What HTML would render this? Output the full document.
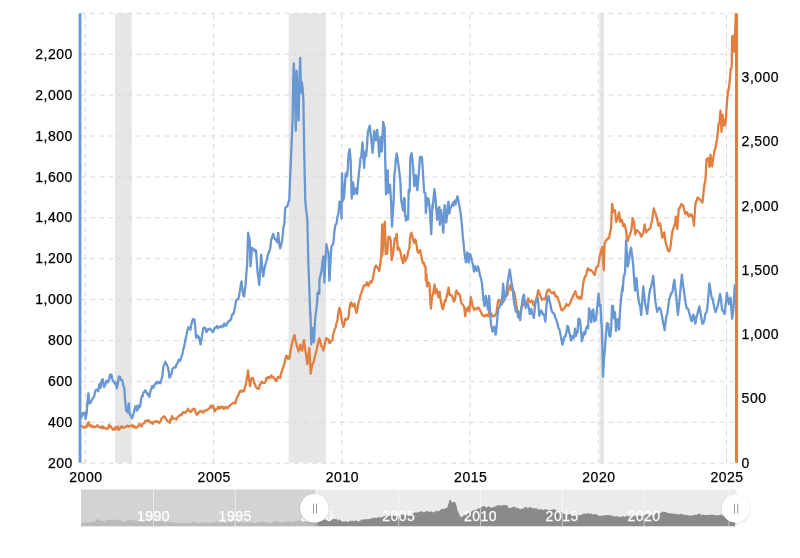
<!DOCTYPE html>
<html><head><meta charset="utf-8"><style>
html,body{margin:0;padding:0;background:#fff;width:800px;height:558px;overflow:hidden;position:relative}
</style></head><body>
<svg width="800" height="558" viewBox="0 0 800 558" style="position:absolute;left:0;top:0;will-change:transform"><rect x="115.0" y="13.3" width="16.8" height="449.4" fill="#e6e6e6"/><rect x="288.6" y="13.3" width="37.3" height="449.4" fill="#e6e6e6"/><rect x="599.5" y="13.3" width="4.6" height="449.4" fill="#e6e6e6"/><line x1="81.1" y1="463.2" x2="735.5" y2="463.2" stroke="#d8d8d8" stroke-width="1" stroke-dasharray="4.6,4.655"/><line x1="81.1" y1="422.3" x2="735.5" y2="422.3" stroke="#d8d8d8" stroke-width="1" stroke-dasharray="4.6,4.655"/><line x1="81.1" y1="381.4" x2="735.5" y2="381.4" stroke="#d8d8d8" stroke-width="1" stroke-dasharray="4.6,4.655"/><line x1="81.1" y1="340.5" x2="735.5" y2="340.5" stroke="#d8d8d8" stroke-width="1" stroke-dasharray="4.6,4.655"/><line x1="81.1" y1="299.6" x2="735.5" y2="299.6" stroke="#d8d8d8" stroke-width="1" stroke-dasharray="4.6,4.655"/><line x1="81.1" y1="258.7" x2="735.5" y2="258.7" stroke="#d8d8d8" stroke-width="1" stroke-dasharray="4.6,4.655"/><line x1="81.1" y1="217.8" x2="735.5" y2="217.8" stroke="#d8d8d8" stroke-width="1" stroke-dasharray="4.6,4.655"/><line x1="81.1" y1="176.9" x2="735.5" y2="176.9" stroke="#d8d8d8" stroke-width="1" stroke-dasharray="4.6,4.655"/><line x1="81.1" y1="136.0" x2="735.5" y2="136.0" stroke="#d8d8d8" stroke-width="1" stroke-dasharray="4.6,4.655"/><line x1="81.1" y1="95.1" x2="735.5" y2="95.1" stroke="#d8d8d8" stroke-width="1" stroke-dasharray="4.6,4.655"/><line x1="81.1" y1="54.2" x2="735.5" y2="54.2" stroke="#d8d8d8" stroke-width="1" stroke-dasharray="4.6,4.655"/><line x1="81.1" y1="13.3" x2="735.5" y2="13.3" stroke="#d8d8d8" stroke-width="1" stroke-dasharray="4.6,4.655"/><line x1="85.3" y1="463.0" x2="85.3" y2="13.3" stroke="#d8d8d8" stroke-width="1" stroke-dasharray="4.7,4.545"/><line x1="213.6" y1="463.0" x2="213.6" y2="13.3" stroke="#d8d8d8" stroke-width="1" stroke-dasharray="4.7,4.545"/><line x1="341.8" y1="463.0" x2="341.8" y2="13.3" stroke="#d8d8d8" stroke-width="1" stroke-dasharray="4.7,4.545"/><line x1="470.1" y1="463.0" x2="470.1" y2="13.3" stroke="#d8d8d8" stroke-width="1" stroke-dasharray="4.7,4.545"/><line x1="598.3" y1="463.0" x2="598.3" y2="13.3" stroke="#d8d8d8" stroke-width="1" stroke-dasharray="4.7,4.545"/><line x1="726.5" y1="463.0" x2="726.5" y2="13.3" stroke="#d8d8d8" stroke-width="1" stroke-dasharray="4.7,4.545"/><path d="M81.2,425.6 L82.0,425.8 L83.0,427.3 L84.0,427.6 L85.0,426.8 L86.0,427.6 L87.0,426.1 L87.8,423.6 L88.5,422.2 L89.5,425.6 L90.2,424.9 L91.0,426.8 L91.7,426.1 L92.4,425.6 L93.1,427.0 L94.1,426.8 L95.1,427.0 L95.8,426.5 L96.6,426.4 L97.3,425.2 L98.1,426.2 L99.1,427.0 L100.1,427.6 L100.8,426.9 L101.6,427.6 L102.3,426.3 L103.1,428.3 L103.8,427.3 L104.6,427.7 L105.3,428.2 L106.1,428.8 L107.1,428.5 L108.1,428.7 L109.1,424.7 L110.1,427.0 L111.1,426.7 L112.1,428.4 L112.9,429.8 L113.8,428.7 L114.6,429.6 L115.4,427.2 L116.3,428.4 L117.1,428.9 L117.8,426.4 L118.5,429.8 L119.2,429.4 L120.0,428.4 L120.7,427.2 L121.5,426.1 L122.2,427.5 L123.2,427.5 L124.2,427.8 L125.2,426.8 L126.2,426.8 L127.2,425.6 L128.2,426.0 L128.9,426.6 L129.7,426.0 L130.4,426.1 L131.2,426.0 L132.2,425.0 L133.2,427.2 L134.2,425.9 L135.2,427.6 L136.2,427.9 L137.2,427.1 L138.2,425.9 L138.8,425.4 L139.4,423.8 L140.1,425.4 L140.7,425.6 L141.4,426.5 L142.2,424.7 L142.9,423.3 L143.6,423.4 L144.3,423.3 L145.3,420.7 L146.3,420.7 L147.1,421.1 L147.8,420.4 L148.6,420.2 L149.3,422.0 L150.3,421.7 L151.3,423.0 L152.1,422.1 L152.8,423.8 L153.8,422.3 L154.8,421.5 L155.6,421.4 L156.3,421.9 L157.3,421.1 L158.3,422.2 L159.1,423.1 L159.9,422.2 L160.7,421.1 L161.5,418.6 L162.3,417.5 L163.2,417.1 L164.0,416.3 L164.8,416.7 L165.7,418.7 L166.5,419.6 L167.3,420.8 L168.2,421.7 L169.0,421.8 L169.8,422.9 L170.5,419.1 L171.2,420.2 L172.0,416.2 L172.7,418.4 L173.4,418.5 L174.1,418.5 L174.8,418.4 L175.6,418.9 L176.4,419.6 L177.3,417.7 L178.1,416.3 L178.9,416.3 L179.8,415.2 L180.6,414.4 L181.3,415.2 L182.1,414.4 L182.9,412.3 L183.8,412.8 L184.6,412.3 L185.6,412.7 L186.6,410.9 L187.3,410.5 L188.1,408.7 L188.8,410.8 L189.6,410.9 L190.6,412.0 L191.6,411.4 L192.3,409.4 L193.1,409.4 L193.8,408.6 L194.6,408.8 L195.6,412.2 L196.3,414.1 L197.1,414.8 L197.8,414.0 L198.5,412.4 L199.2,412.3 L200.2,410.8 L201.2,410.9 L202.2,412.2 L203.2,412.6 L204.2,410.8 L205.2,410.3 L206.2,410.8 L207.2,409.8 L208.2,409.3 L209.2,408.3 L209.9,407.7 L210.7,405.8 L211.4,407.6 L212.2,407.1 L212.9,405.6 L213.7,408.2 L214.7,411.4 L215.7,409.6 L216.5,408.7 L217.4,408.7 L218.2,406.8 L219.2,408.8 L220.2,407.5 L220.9,406.4 L221.7,407.8 L222.4,407.1 L223.1,407.0 L223.8,409.0 L224.8,407.9 L225.8,406.6 L226.6,407.2 L227.3,408.6 L228.3,407.3 L229.3,405.9 L230.3,405.2 L231.3,404.2 L232.3,403.7 L233.3,402.9 L234.3,402.5 L235.3,403.5 L236.3,399.3 L237.3,396.9 L238.3,395.3 L239.3,392.8 L240.0,391.3 L240.8,391.9 L241.6,390.4 L242.4,391.3 L243.2,391.1 L244.0,391.3 L245.0,386.7 L246.0,384.4 L247.0,377.5 L248.0,370.4 L249.0,378.9 L250.0,386.2 L251.0,379.8 L252.0,377.9 L252.8,378.3 L253.6,380.0 L254.3,383.1 L255.1,384.4 L255.8,386.9 L256.6,387.4 L257.4,388.6 L258.1,388.8 L258.9,388.4 L259.6,384.9 L260.4,384.7 L261.1,382.6 L261.9,381.7 L262.6,382.6 L263.4,382.9 L264.1,382.9 L264.9,382.8 L265.7,381.2 L266.5,377.8 L267.3,378.7 L268.1,376.9 L268.9,378.0 L269.6,377.3 L270.4,377.6 L271.1,375.4 L271.9,376.9 L272.6,377.3 L273.4,376.9 L274.1,378.4 L274.9,379.0 L275.6,380.8 L276.4,381.1 L277.1,379.2 L277.9,376.9 L278.6,377.6 L279.4,377.7 L280.2,378.0 L280.9,373.6 L281.7,371.9 L282.4,368.9 L283.2,367.8 L283.9,365.2 L284.7,362.5 L285.4,358.6 L286.2,355.9 L286.9,355.8 L287.7,358.5 L288.4,357.9 L289.2,358.8 L290.1,353.8 L290.9,348.8 L291.8,344.4 L292.5,341.5 L293.2,339.5 L293.9,336.0 L294.6,335.2 L295.4,340.3 L296.2,343.2 L297.0,346.4 L297.8,348.9 L298.6,351.5 L299.4,349.7 L300.2,344.6 L301.2,348.8 L302.2,350.6 L303.0,345.6 L303.9,340.1 L304.6,344.4 L305.3,350.1 L306.3,356.6 L307.3,364.1 L308.3,356.6 L309.3,348.0 L310.0,359.6 L310.7,373.7 L311.5,368.6 L312.3,364.5 L313.1,362.9 L313.8,361.5 L314.6,357.5 L315.3,354.7 L316.3,351.7 L317.3,346.4 L318.3,341.8 L319.3,338.4 L320.3,341.9 L321.3,346.1 L322.3,347.0 L323.3,350.5 L324.1,347.7 L324.8,344.0 L325.6,340.8 L326.3,338.1 L327.1,339.3 L327.9,338.9 L328.6,339.8 L329.4,343.0 L330.1,343.2 L330.9,341.1 L331.6,340.7 L332.4,340.0 L333.1,334.5 L333.9,332.4 L334.6,329.1 L335.4,328.1 L336.4,323.8 L337.4,320.0 L338.4,312.5 L339.4,307.9 L340.4,310.7 L341.4,317.8 L342.4,323.4 L343.4,326.9 L344.4,323.0 L345.4,318.6 L346.1,318.8 L346.9,319.6 L347.6,319.0 L348.4,318.1 L349.4,309.1 L350.4,303.4 L351.4,302.4 L352.4,306.4 L353.1,306.2 L353.8,305.0 L354.5,303.7 L355.5,309.6 L356.5,312.9 L357.5,308.7 L358.5,302.5 L359.5,299.5 L360.5,295.0 L361.5,292.4 L362.5,289.6 L363.3,287.2 L364.1,285.2 L365.0,285.7 L366.0,285.1 L366.9,282.3 L367.8,284.6 L368.6,285.8 L369.6,282.7 L370.6,281.3 L371.4,282.5 L372.3,280.1 L373.1,277.5 L373.9,272.8 L374.5,269.5 L375.1,266.7 L376.1,265.6 L377.1,267.4 L377.8,267.9 L378.5,269.1 L379.2,271.2 L380.2,264.4 L381.2,258.1 L382.2,224.5 L382.2,255.6 L383.1,245.4 L383.9,234.8 L384.8,221.6 L385.7,254.1 L386.4,253.2 L387.2,253.5 L388.2,237.8 L388.9,236.7 L389.7,237.0 L390.7,240.3 L391.7,260.0 L392.4,256.6 L393.2,253.5 L393.9,246.3 L394.7,238.4 L395.7,239.2 L396.7,233.8 L397.7,249.9 L398.4,247.4 L399.2,248.9 L399.9,250.3 L400.7,253.4 L401.7,258.9 L402.4,260.8 L403.1,263.2 L404.3,255.1 L405.3,261.2 L406.3,258.5 L407.3,256.7 L408.3,250.9 L409.3,248.6 L410.3,235.5 L411.5,232.8 L412.4,236.2 L413.3,240.7 L414.3,242.7 L415.1,239.4 L415.8,240.5 L416.6,245.5 L417.3,250.6 L418.3,252.7 L419.2,251.7 L420.2,250.1 L421.1,255.0 L422.0,259.8 L423.0,263.2 L424.0,262.8 L424.8,266.6 L425.5,266.2 L425.8,280.4 L426.5,274.2 L427.0,286.3 L428.0,282.0 L428.8,283.1 L429.5,283.9 L430.5,304.2 L431.0,308.7 L432.0,297.0 L433.1,293.6 L433.9,288.7 L434.6,284.3 L435.6,293.1 L436.6,289.3 L437.6,293.3 L438.6,297.4 L439.6,291.7 L440.6,300.3 L441.6,304.5 L442.2,307.4 L442.9,309.1 L443.5,307.0 L444.1,303.9 L444.9,300.6 L445.6,301.2 L446.6,296.7 L447.6,292.4 L448.6,287.6 L449.6,295.2 L450.4,294.9 L451.1,295.3 L451.9,295.6 L452.6,297.4 L453.4,300.4 L454.1,301.7 L455.1,299.0 L455.9,291.9 L456.6,290.5 L457.4,292.8 L458.2,294.0 L458.9,293.6 L459.7,294.8 L460.4,298.4 L461.2,302.4 L461.9,303.9 L462.7,304.6 L463.4,305.4 L464.2,307.4 L465.2,316.0 L466.2,308.7 L467.2,310.5 L468.2,307.2 L469.2,311.4 L469.9,306.4 L470.7,297.2 L471.7,301.3 L472.7,306.9 L473.4,307.5 L474.2,309.9 L475.2,309.2 L475.9,308.3 L476.7,309.0 L477.4,309.2 L478.2,307.5 L479.2,308.6 L480.2,310.5 L481.2,312.6 L482.2,314.4 L482.9,315.7 L483.6,315.9 L484.3,316.4 L485.3,315.8 L486.3,314.6 L487.3,315.8 L488.3,316.3 L489.3,311.2 L490.3,314.0 L491.3,313.6 L492.3,316.1 L493.1,316.4 L493.9,315.9 L494.7,315.9 L495.5,314.2 L496.3,314.2 L497.1,308.1 L497.8,302.5 L498.6,300.2 L499.3,299.7 L500.5,302.4 L501.4,301.7 L502.2,301.3 L503.1,302.3 L504.1,300.5 L505.1,297.8 L505.8,296.8 L506.5,295.9 L507.4,294.7 L508.3,290.4 L509.2,287.9 L509.9,285.3 L510.7,286.7 L511.5,290.2 L512.2,290.2 L513.2,290.3 L514.2,292.1 L515.0,296.8 L515.8,302.1 L516.6,307.3 L517.4,310.9 L518.2,311.2 L519.2,315.9 L520.2,314.6 L521.2,308.8 L522.2,306.2 L523.2,304.6 L524.2,302.3 L525.2,303.2 L526.2,304.4 L527.2,302.2 L528.2,298.4 L529.2,301.1 L530.2,302.3 L531.2,301.0 L532.2,300.6 L532.9,302.0 L533.6,305.2 L534.3,304.8 L535.3,302.3 L536.3,298.7 L537.3,294.7 L538.3,290.2 L539.3,292.9 L540.3,296.1 L541.1,297.5 L541.9,300.0 L542.7,298.8 L543.6,298.8 L544.4,298.7 L545.3,299.5 L546.3,294.7 L547.3,290.4 L548.3,290.4 L549.3,289.4 L550.3,291.6 L551.3,292.5 L552.2,293.4 L553.0,293.1 L553.9,292.0 L554.7,294.2 L555.5,296.6 L556.3,296.0 L557.0,296.9 L557.7,297.3 L558.4,300.1 L559.4,302.7 L560.4,306.6 L561.4,310.0 L562.4,310.4 L563.4,309.0 L564.4,308.0 L565.4,306.4 L566.4,303.9 L567.4,305.2 L568.4,305.8 L569.4,304.5 L570.4,302.4 L571.4,299.4 L572.4,297.8 L573.4,295.1 L574.4,293.2 L575.4,291.3 L576.4,294.8 L577.4,297.5 L578.4,298.2 L579.1,296.8 L579.9,298.7 L580.6,298.7 L581.4,298.3 L582.1,293.7 L582.8,286.7 L583.5,281.8 L584.4,278.3 L585.2,276.0 L586.1,275.6 L587.1,270.2 L588.1,268.3 L589.1,269.9 L590.1,270.5 L590.9,269.8 L591.7,270.7 L592.5,271.9 L593.3,272.9 L594.1,274.5 L594.9,274.9 L596.0,268.0 L596.8,266.7 L597.5,266.8 L598.2,265.9 L599.0,260.9 L600.0,255.5 L601.0,250.5 L601.7,249.0 L602.4,246.9 L603.0,259.3 L603.7,270.3 L604.5,244.6 L605.3,242.1 L606.1,240.0 L606.9,239.8 L607.6,239.1 L608.4,237.6 L609.1,238.0 L610.1,232.0 L611.1,228.1 L612.1,203.8 L612.9,208.1 L613.7,212.1 L614.4,210.4 L615.1,210.4 L616.1,222.0 L616.9,220.6 L617.7,218.4 L618.4,215.3 L619.1,212.3 L620.1,221.8 L620.9,220.7 L621.7,219.8 L622.4,221.6 L623.1,226.1 L623.8,224.2 L624.5,224.2 L625.3,227.4 L626.1,230.6 L627.1,240.6 L627.8,240.6 L628.5,237.8 L629.2,236.2 L630.2,233.8 L631.2,230.7 L631.9,225.5 L632.6,218.2 L633.4,220.2 L634.2,223.8 L635.2,234.4 L636.2,231.5 L637.2,230.1 L638.2,231.5 L639.2,232.5 L640.2,233.9 L641.2,236.8 L642.2,235.4 L643.2,232.6 L643.9,229.6 L644.6,224.4 L645.4,229.2 L646.2,232.4 L647.2,230.6 L648.2,229.9 L649.2,228.9 L650.2,228.3 L651.2,224.0 L652.2,220.0 L653.0,213.6 L653.9,208.3 L654.6,211.6 L655.3,212.3 L656.3,216.4 L657.3,219.7 L658.3,225.7 L659.3,223.5 L660.3,223.7 L661.3,230.9 L662.3,237.6 L663.3,234.5 L664.3,232.4 L665.3,240.7 L666.3,244.5 L667.3,248.2 L668.3,251.0 L669.3,251.4 L670.3,248.5 L671.3,240.1 L672.3,231.9 L673.3,228.6 L674.3,226.4 L675.1,222.8 L675.9,216.6 L676.6,223.9 L677.3,228.9 L678.0,218.5 L678.8,208.4 L679.7,208.3 L680.5,206.1 L681.4,204.0 L682.4,205.0 L683.4,206.2 L684.4,210.9 L685.4,213.8 L686.4,212.1 L687.4,212.6 L688.4,216.3 L689.4,216.5 L690.1,215.4 L690.8,214.2 L691.8,215.1 L692.8,217.9 L693.4,221.6 L694.0,225.8 L694.7,214.3 L695.4,204.1 L696.1,201.3 L696.9,200.1 L697.6,197.6 L698.4,198.0 L699.4,199.0 L700.4,200.2 L701.4,201.1 L702.4,202.5 L703.1,197.3 L703.8,189.5 L704.5,184.1 L705.5,179.7 L706.5,159.3 L707.5,158.6 L708.5,158.3 L709.5,166.8 L710.5,154.7 L711.3,160.6 L712.1,166.4 L712.8,160.9 L713.5,156.6 L714.5,150.5 L715.5,148.0 L716.2,143.3 L716.9,140.3 L717.7,133.5 L718.5,124.1 L719.5,122.5 L720.5,110.6 L721.5,131.9 L722.5,114.6 L723.3,119.8 L724.1,125.6 L724.8,125.2 L725.5,123.9 L726.1,114.9 L726.7,106.0 L727.7,92.9 L728.5,90.2 L729.2,85.7 L730.0,77.8 L730.7,68.8 L731.7,67.5 L732.2,36.4 L732.7,50.1 L733.8,35.7 L734.3,51.9 L735.1,33.6 L735.8,13.4" fill="none" stroke="#e07f3f" stroke-width="2.3" stroke-linejoin="round"/><path d="M80.0,415.1 L80.8,416.2 L81.5,417.6 L82.5,413.0 L83.3,414.2 L84.2,413.1 L85.0,412.5 L85.5,418.9 L86.5,414.6 L87.4,402.9 L88.4,393.3 L89.3,403.4 L90.2,403.0 L91.0,402.2 L91.9,399.5 L93.1,397.9 L94.2,396.3 L95.3,390.7 L96.4,389.6 L97.6,390.1 L98.3,391.3 L98.9,386.7 L99.5,384.2 L100.6,387.8 L101.3,381.8 L102.1,379.7 L102.8,379.2 L103.4,384.1 L104.0,387.0 L104.8,385.3 L105.5,384.3 L106.2,381.1 L107.0,380.7 L108.1,382.2 L109.2,379.0 L109.8,375.0 L110.4,377.5 L111.5,374.4 L112.6,380.0 L113.3,381.2 L114.1,381.9 L114.9,383.9 L115.7,382.5 L116.8,388.3 L117.9,382.8 L119.0,376.5 L119.8,376.7 L120.5,378.1 L121.1,380.2 L121.7,380.1 L122.5,380.6 L123.2,385.2 L124.3,388.5 L125.2,401.1 L126.2,411.0 L127.0,410.4 L127.7,412.5 L128.7,403.4 L129.7,413.5 L130.7,416.2 L131.3,416.5 L132.0,418.4 L133.2,414.7 L133.9,412.2 L134.7,408.6 L135.4,406.6 L136.2,406.0 L136.9,410.6 L137.7,409.4 L138.7,405.3 L139.4,407.4 L140.2,406.1 L141.2,398.5 L141.9,396.0 L142.6,396.4 L143.3,392.7 L144.3,391.8 L145.3,390.3 L146.3,392.0 L147.3,394.2 L148.3,393.8 L149.3,396.9 L150.3,391.8 L151.3,388.5 L152.3,385.9 L153.3,387.7 L154.1,386.2 L154.8,384.6 L155.6,383.2 L156.3,382.2 L157.1,383.6 L157.8,382.4 L158.6,381.8 L159.3,382.9 L160.3,383.3 L161.3,380.1 L162.3,376.3 L163.3,367.0 L164.3,364.9 L165.3,361.8 L166.3,363.9 L167.3,365.8 L168.0,368.0 L168.7,371.2 L169.4,377.5 L170.4,376.4 L171.4,374.1 L172.4,368.9 L173.4,368.1 L174.2,367.1 L174.9,367.3 L175.7,367.5 L176.4,364.5 L177.2,363.6 L177.9,362.3 L178.7,359.7 L179.4,360.2 L180.2,360.7 L180.9,358.5 L181.7,356.0 L182.4,354.1 L183.4,348.9 L184.4,345.6 L185.4,339.6 L186.4,335.5 L187.4,330.3 L188.4,327.1 L189.4,327.8 L190.4,329.8 L191.4,324.0 L192.4,320.7 L193.1,319.0 L193.8,320.9 L194.5,319.7 L195.3,327.9 L196.1,337.7 L196.9,337.6 L197.7,335.6 L198.5,336.3 L199.5,340.1 L200.5,344.5 L201.5,338.8 L202.5,332.0 L203.5,328.0 L204.5,327.4 L205.5,328.5 L206.5,332.0 L207.2,331.4 L208.0,329.2 L208.8,329.2 L209.5,328.4 L210.2,329.6 L211.0,329.7 L211.8,330.3 L212.5,332.2 L213.5,331.2 L214.5,327.8 L215.3,328.0 L216.1,327.0 L217.0,326.0 L217.8,328.2 L218.6,327.5 L219.4,326.7 L220.2,326.7 L221.0,327.1 L221.8,325.7 L222.6,325.9 L223.4,326.5 L224.2,323.5 L225.0,324.7 L225.8,325.8 L226.6,325.3 L227.3,322.7 L228.1,322.7 L228.8,320.6 L229.6,321.0 L230.3,320.4 L231.1,318.8 L231.8,315.9 L232.6,313.8 L233.3,314.0 L234.1,311.7 L235.1,306.4 L236.1,300.6 L237.1,299.5 L238.1,299.4 L239.1,295.4 L240.1,289.6 L240.8,284.8 L241.5,281.3 L242.3,287.8 L243.1,294.6 L244.1,296.4 L244.9,290.2 L245.7,283.5 L246.4,272.9 L247.1,265.5 L248.1,232.6 L248.9,236.9 L249.7,240.3 L250.5,266.5 L251.3,256.6 L252.1,247.9 L253.1,248.8 L254.1,250.0 L254.8,251.6 L255.4,249.8 L256.1,250.9 L257.1,266.3 L257.8,273.8 L258.5,278.0 L259.2,284.9 L260.2,270.6 L261.2,254.6 L262.2,267.0 L263.2,276.3 L264.2,269.9 L265.2,265.2 L266.2,262.0 L267.2,257.9 L268.2,253.8 L269.2,251.9 L270.2,248.5 L271.2,239.9 L272.2,236.9 L273.2,233.9 L274.2,237.5 L275.2,239.5 L276.2,239.4 L277.2,242.3 L278.2,232.8 L279.2,243.6 L280.2,248.4 L281.2,244.7 L282.2,240.2 L282.9,233.0 L283.6,226.4 L284.3,223.9 L285.3,208.0 L286.3,206.8 L287.3,206.5 L288.3,202.5 L289.3,200.1 L290.2,176.3 L291.2,152.0 L291.9,136.9 L292.6,120.5 L293.2,80.4 L293.8,63.3 L294.6,81.1 L295.8,130.8 L296.6,70.7 L297.8,96.8 L298.6,120.5 L299.4,80.6 L300.2,58.0 L301.0,92.6 L301.8,82.1 L302.6,87.9 L303.4,100.2 L304.2,152.3 L305.3,200.6 L306.3,211.3 L307.3,218.4 L308.4,264.1 L309.4,290.5 L310.3,316.3 L310.4,311.7 L311.3,344.4 L312.0,336.9 L312.7,327.9 L313.9,342.2 L314.6,328.3 L315.3,317.4 L316.3,309.4 L317.3,301.2 L317.4,294.0 L318.4,291.6 L319.3,293.9 L319.4,279.9 L320.4,275.9 L321.4,271.6 L322.4,262.5 L323.4,256.3 L324.4,282.6 L325.4,261.1 L326.4,244.2 L327.4,249.5 L328.4,252.3 L329.4,280.9 L330.4,262.9 L331.4,246.1 L332.1,245.6 L332.8,244.8 L333.5,241.2 L334.5,230.2 L335.5,224.7 L336.5,223.9 L337.5,216.7 L338.5,213.6 L339.6,201.6 L340.5,204.0 L341.0,204.7 L341.5,218.5 L342.0,173.5 L343.1,200.6 L344.1,196.4 L344.9,185.3 L345.7,173.5 L346.4,175.8 L347.1,176.3 L347.8,167.9 L348.5,154.8 L349.7,149.1 L350.7,161.2 L351.7,198.6 L352.4,188.4 L353.1,182.5 L354.1,194.3 L354.9,191.4 L355.7,188.3 L356.4,191.4 L357.1,193.9 L358.1,182.0 L358.9,173.1 L359.7,166.1 L360.4,158.6 L361.1,157.9 L361.8,150.7 L362.5,142.5 L363.3,153.4 L364.1,167.9 L365.1,152.3 L366.1,156.2 L367.0,146.1 L367.8,132.4 L368.8,128.3 L369.8,125.7 L370.5,132.4 L371.2,138.0 L371.9,146.0 L372.6,152.8 L373.4,143.0 L374.2,130.8 L375.0,136.2 L375.8,140.4 L376.5,134.6 L377.2,129.8 L378.2,140.8 L379.2,156.5 L379.9,144.9 L380.6,137.1 L381.8,151.7 L382.5,136.8 L383.2,121.9 L383.9,125.7 L384.6,126.8 L385.3,162.8 L386.0,194.3 L386.2,193.9 L387.0,182.2 L387.8,170.4 L388.0,192.4 L389.2,192.8 L390.0,184.7 L391.0,200.4 L392.0,226.6 L392.9,212.7 L393.7,199.1 L394.3,175.5 L395.1,169.3 L395.9,158.9 L396.7,153.3 L397.5,158.0 L398.3,164.0 L399.3,171.8 L400.3,180.3 L401.1,199.7 L401.9,204.2 L402.5,207.6 L403.1,210.5 L404.1,198.0 L404.7,199.0 L405.1,215.2 L406.1,220.6 L407.1,216.4 L408.1,219.5 L408.7,189.8 L409.7,191.8 L410.3,158.3 L411.0,154.8 L411.7,153.3 L412.5,160.9 L413.3,170.3 L414.3,186.0 L415.1,183.7 L415.9,175.1 L416.5,179.9 L417.1,189.5 L417.3,190.2 L418.4,178.9 L419.2,167.7 L420.0,157.2 L421.0,156.9 L422.0,157.7 L422.7,168.8 L423.4,180.5 L424.2,192.4 L425.4,193.2 L425.8,213.1 L426.5,204.6 L427.2,198.0 L427.4,205.2 L428.4,198.7 L429.2,202.6 L430.2,216.4 L431.2,234.2 L432.4,205.1 L432.6,208.9 L433.4,200.2 L434.2,190.6 L434.4,189.2 L435.1,194.3 L435.8,202.2 L436.5,211.5 L437.2,219.8 L437.9,214.1 L438.6,208.2 L439.4,207.0 L439.8,224.9 L440.5,218.1 L441.2,210.1 L441.9,217.2 L442.6,224.4 L443.3,232.7 L444.5,205.4 L444.7,205.2 L445.5,215.7 L446.3,222.5 L447.1,215.0 L447.9,204.3 L448.5,201.6 L449.3,213.5 L450.3,208.4 L451.3,206.4 L451.5,206.1 L452.4,203.7 L453.3,205.6 L453.5,201.8 L454.4,203.6 L455.3,200.4 L455.5,204.4 L456.4,200.5 L457.3,196.7 L457.5,196.2 L458.4,200.4 L459.3,205.3 L460.3,211.0 L461.3,219.7 L462.0,226.1 L462.7,235.4 L463.5,243.0 L464.3,251.1 L465.1,257.3 L465.9,262.3 L466.6,258.0 L467.3,252.3 L468.1,256.2 L468.8,262.7 L470.0,253.8 L471.0,256.6 L472.0,261.5 L473.0,264.9 L474.0,271.6 L475.0,266.1 L476.0,270.1 L477.0,270.7 L478.0,266.4 L479.0,270.0 L480.0,275.9 L481.0,278.4 L482.0,283.8 L483.1,296.4 L483.8,301.9 L484.5,306.2 L485.7,295.9 L486.4,299.6 L487.1,304.2 L488.1,309.8 L489.1,295.8 L490.1,312.3 L491.1,325.7 L491.8,327.5 L492.5,331.5 L493.3,330.0 L494.1,326.7 L494.9,331.7 L495.7,334.7 L496.4,328.4 L497.1,320.6 L498.1,309.7 L498.9,307.7 L499.7,306.4 L500.7,303.5 L501.7,304.3 L502.4,295.2 L503.1,283.6 L503.8,290.6 L504.5,299.8 L505.3,296.8 L506.1,296.1 L507.0,287.2 L507.8,281.7 L508.8,275.2 L509.8,269.3 L510.5,275.1 L511.2,280.1 L511.9,285.1 L512.6,287.5 L513.4,296.3 L514.2,304.1 L515.0,306.2 L515.8,311.7 L516.6,310.7 L517.4,311.5 L518.2,317.4 L519.2,316.5 L520.2,320.1 L521.0,311.7 L521.8,305.4 L522.8,297.4 L523.8,294.5 L524.8,301.7 L525.8,308.0 L526.8,304.5 L527.8,303.5 L528.8,307.7 L529.8,314.2 L530.5,312.7 L531.2,308.9 L532.1,313.3 L533.0,314.9 L533.9,317.9 L534.9,306.4 L535.9,301.1 L536.9,298.8 L537.9,297.8 L538.6,307.1 L539.3,315.7 L540.3,313.4 L541.3,310.4 L542.3,312.6 L543.3,314.5 L544.3,315.6 L545.3,321.6 L546.3,307.7 L547.3,298.5 L548.0,297.6 L548.7,296.1 L549.5,301.1 L550.3,303.9 L551.3,309.7 L552.3,312.1 L553.3,313.1 L554.3,313.9 L555.3,317.7 L556.3,319.4 L557.0,322.4 L557.7,324.2 L558.4,328.1 L559.4,329.3 L560.4,334.1 L561.4,339.2 L562.4,344.6 L563.4,341.2 L564.4,336.7 L565.4,336.4 L566.4,332.5 L567.4,325.9 L568.3,326.8 L569.1,331.8 L570.0,335.0 L571.0,340.5 L572.0,336.4 L572.8,336.1 L573.5,338.4 L574.2,336.3 L575.0,328.6 L576.0,336.0 L576.8,332.7 L577.5,332.3 L578.5,318.9 L579.2,318.7 L580.0,320.2 L581.0,330.3 L581.8,341.3 L582.5,338.6 L583.1,336.8 L584.1,332.1 L585.1,334.2 L586.1,328.4 L587.3,326.0 L588.1,328.3 L589.1,308.4 L590.1,312.3 L591.3,322.4 L592.3,310.7 L593.3,309.5 L594.3,321.4 L595.1,319.7 L595.9,320.1 L596.9,310.1 L597.9,299.8 L598.6,293.6 L599.6,306.1 L600.6,305.2 L601.3,321.9 L601.9,327.6 L602.6,356.7 L603.0,376.6 L604.1,357.0 L604.8,350.7 L605.5,340.2 L606.1,332.1 L606.9,323.1 L607.5,323.5 L608.2,323.7 L609.2,335.1 L610.2,336.7 L611.2,328.2 L612.0,306.0 L613.0,306.0 L614.0,318.4 L615.0,312.5 L616.0,330.9 L617.0,319.8 L618.0,319.1 L619.0,329.7 L619.7,317.8 L620.2,308.4 L621.0,299.6 L621.7,292.9 L622.5,286.3 L622.7,291.1 L623.7,276.3 L624.4,275.4 L625.1,270.8 L626.1,240.6 L626.9,253.6 L627.7,266.7 L628.4,262.9 L629.1,258.6 L630.1,251.0 L631.1,247.8 L632.1,255.5 L633.1,263.9 L634.1,278.5 L635.1,290.7 L635.8,284.7 L636.5,278.1 L637.4,289.6 L638.2,297.0 L639.2,303.5 L640.2,306.3 L641.2,315.0 L642.2,302.2 L643.2,286.5 L644.2,295.5 L645.2,303.7 L646.2,309.1 L647.2,313.9 L648.2,304.6 L649.2,294.2 L650.2,289.2 L651.2,286.3 L652.2,281.5 L653.2,275.8 L654.2,287.4 L655.2,300.4 L656.2,306.2 L657.2,311.8 L658.2,309.0 L659.2,307.8 L660.2,308.4 L661.2,312.1 L661.9,315.8 L662.6,319.8 L663.3,323.6 L664.0,326.4 L664.7,330.2 L665.5,322.4 L666.3,316.3 L667.3,313.9 L668.3,306.2 L669.3,298.8 L670.3,296.2 L671.3,293.0 L672.3,292.6 L673.3,285.5 L674.3,279.9 L675.3,288.8 L676.3,296.8 L677.1,306.8 L677.9,314.8 L678.9,306.0 L679.9,296.2 L680.9,284.8 L681.9,274.7 L682.9,284.1 L683.9,290.6 L684.9,298.3 L685.9,304.8 L686.6,308.3 L687.3,308.3 L688.0,308.6 L689.0,312.2 L690.0,315.6 L691.0,320.0 L692.0,321.4 L692.7,317.0 L693.4,314.7 L694.4,318.0 L695.4,323.7 L696.4,317.3 L697.4,314.0 L698.4,309.8 L699.4,306.4 L700.4,312.8 L701.4,318.3 L702.4,323.8 L703.4,323.1 L704.4,319.7 L705.4,313.6 L706.4,312.9 L707.4,307.1 L708.4,296.2 L709.4,283.3 L710.4,289.8 L711.4,296.0 L712.1,298.6 L712.8,298.6 L713.5,303.5 L714.5,308.4 L715.5,312.2 L716.4,309.6 L717.2,307.9 L718.1,304.0 L719.1,299.1 L720.1,294.0 L721.1,300.3 L722.1,309.9 L722.9,310.8 L723.7,312.0 L724.5,314.0 L725.3,307.5 L726.1,301.5 L726.9,292.8 L727.9,299.2 L728.9,304.0 L729.7,299.6 L730.5,297.6 L731.3,307.3 L732.1,318.6 L732.8,314.0 L733.5,306.6 L734.2,295.2 L734.9,284.4" fill="none" stroke="#6897d2" stroke-width="2.3" stroke-linejoin="round"/><rect x="78.6" y="13.3" width="2.8" height="449.4" fill="#6897d2"/><rect x="735" y="13.3" width="3" height="449.4" fill="#e07f3f"/><text x="72.8" y="467.7" text-anchor="end" font-family='"Liberation Sans", sans-serif' font-size="14" fill="#000" letter-spacing="0.5" stroke="#000" stroke-width="0.25">200</text><text x="72.8" y="426.8" text-anchor="end" font-family='"Liberation Sans", sans-serif' font-size="14" fill="#000" letter-spacing="0.5" stroke="#000" stroke-width="0.25">400</text><text x="72.8" y="385.9" text-anchor="end" font-family='"Liberation Sans", sans-serif' font-size="14" fill="#000" letter-spacing="0.5" stroke="#000" stroke-width="0.25">600</text><text x="72.8" y="345.0" text-anchor="end" font-family='"Liberation Sans", sans-serif' font-size="14" fill="#000" letter-spacing="0.5" stroke="#000" stroke-width="0.25">800</text><text x="72.8" y="304.1" text-anchor="end" font-family='"Liberation Sans", sans-serif' font-size="14" fill="#000" letter-spacing="0.5" stroke="#000" stroke-width="0.25">1,000</text><text x="72.8" y="263.2" text-anchor="end" font-family='"Liberation Sans", sans-serif' font-size="14" fill="#000" letter-spacing="0.5" stroke="#000" stroke-width="0.25">1,200</text><text x="72.8" y="222.4" text-anchor="end" font-family='"Liberation Sans", sans-serif' font-size="14" fill="#000" letter-spacing="0.5" stroke="#000" stroke-width="0.25">1,400</text><text x="72.8" y="181.5" text-anchor="end" font-family='"Liberation Sans", sans-serif' font-size="14" fill="#000" letter-spacing="0.5" stroke="#000" stroke-width="0.25">1,600</text><text x="72.8" y="140.6" text-anchor="end" font-family='"Liberation Sans", sans-serif' font-size="14" fill="#000" letter-spacing="0.5" stroke="#000" stroke-width="0.25">1,800</text><text x="72.8" y="99.7" text-anchor="end" font-family='"Liberation Sans", sans-serif' font-size="14" fill="#000" letter-spacing="0.5" stroke="#000" stroke-width="0.25">2,000</text><text x="72.8" y="58.8" text-anchor="end" font-family='"Liberation Sans", sans-serif' font-size="14" fill="#000" letter-spacing="0.5" stroke="#000" stroke-width="0.25">2,200</text><text x="741.6" y="467.6" text-anchor="start" font-family='"Liberation Sans", sans-serif' font-size="14" fill="#000" letter-spacing="0.5" stroke="#000" stroke-width="0.25">0</text><text x="741.6" y="403.3" text-anchor="start" font-family='"Liberation Sans", sans-serif' font-size="14" fill="#000" letter-spacing="0.5" stroke="#000" stroke-width="0.25">500</text><text x="741.6" y="339.1" text-anchor="start" font-family='"Liberation Sans", sans-serif' font-size="14" fill="#000" letter-spacing="0.5" stroke="#000" stroke-width="0.25">1,000</text><text x="741.6" y="274.8" text-anchor="start" font-family='"Liberation Sans", sans-serif' font-size="14" fill="#000" letter-spacing="0.5" stroke="#000" stroke-width="0.25">1,500</text><text x="741.6" y="210.6" text-anchor="start" font-family='"Liberation Sans", sans-serif' font-size="14" fill="#000" letter-spacing="0.5" stroke="#000" stroke-width="0.25">2,000</text><text x="741.6" y="146.3" text-anchor="start" font-family='"Liberation Sans", sans-serif' font-size="14" fill="#000" letter-spacing="0.5" stroke="#000" stroke-width="0.25">2,500</text><text x="741.6" y="82.1" text-anchor="start" font-family='"Liberation Sans", sans-serif' font-size="14" fill="#000" letter-spacing="0.5" stroke="#000" stroke-width="0.25">3,000</text><text x="85.9" y="482.4" text-anchor="middle" font-family='"Liberation Sans", sans-serif' font-size="14" fill="#000" letter-spacing="0.5" stroke="#000" stroke-width="0.25">2000</text><text x="214.2" y="482.4" text-anchor="middle" font-family='"Liberation Sans", sans-serif' font-size="14" fill="#000" letter-spacing="0.5" stroke="#000" stroke-width="0.25">2005</text><text x="342.4" y="482.4" text-anchor="middle" font-family='"Liberation Sans", sans-serif' font-size="14" fill="#000" letter-spacing="0.5" stroke="#000" stroke-width="0.25">2010</text><text x="470.7" y="482.4" text-anchor="middle" font-family='"Liberation Sans", sans-serif' font-size="14" fill="#000" letter-spacing="0.5" stroke="#000" stroke-width="0.25">2015</text><text x="598.9" y="482.4" text-anchor="middle" font-family='"Liberation Sans", sans-serif' font-size="14" fill="#000" letter-spacing="0.5" stroke="#000" stroke-width="0.25">2020</text><text x="727.1" y="482.4" text-anchor="middle" font-family='"Liberation Sans", sans-serif' font-size="14" fill="#000" letter-spacing="0.5" stroke="#000" stroke-width="0.25">2025</text><rect x="81" y="489.5" width="234.5" height="36.700000000000045" fill="#d3d3d3"/><rect x="315.5" y="489.5" width="421.0" height="36.700000000000045" fill="#ebebeb"/><clipPath id="cu"><rect x="0" y="0" width="315.5" height="558"/></clipPath><clipPath id="cs"><rect x="315.5" y="0" width="484.5" height="558"/></clipPath><path d="M81.0,526.2 L81.5,523.0 L82.3,522.8 L83.2,523.0 L84.0,522.7 L84.8,522.5 L85.7,522.1 L86.5,522.1 L87.3,522.7 L88.2,522.6 L89.0,522.4 L89.8,522.5 L90.5,522.3 L91.2,522.0 L92.0,521.3 L92.8,521.6 L93.5,521.8 L94.2,521.9 L95.0,521.3 L95.7,519.9 L96.5,519.6 L97.2,519.4 L98.0,519.4 L98.7,519.1 L99.5,519.8 L100.2,520.0 L101.0,520.7 L101.8,520.9 L102.5,520.5 L103.2,521.4 L104.0,520.9 L104.8,521.5 L105.5,520.7 L106.2,520.1 L107.0,519.9 L107.8,519.9 L108.5,520.1 L109.2,520.0 L110.0,519.7 L110.8,519.2 L111.5,519.2 L112.2,520.0 L113.0,519.5 L113.8,519.7 L114.5,519.8 L115.2,519.3 L116.0,519.7 L116.8,520.6 L117.5,519.7 L118.2,520.0 L119.0,520.6 L119.8,520.3 L120.5,520.9 L121.2,521.0 L122.0,520.5 L122.8,521.4 L123.5,521.6 L124.2,521.9 L125.0,522.1 L125.8,521.6 L126.5,521.1 L127.2,520.2 L128.0,520.3 L128.8,520.1 L129.5,520.1 L130.2,519.7 L131.0,519.7 L131.8,519.8 L132.5,520.8 L133.2,519.8 L134.0,520.4 L134.8,520.2 L135.5,521.1 L136.2,521.2 L137.0,520.1 L137.8,519.2 L138.5,520.1 L139.2,520.0 L140.0,520.4 L140.8,520.7 L141.5,521.2 L142.2,521.0 L143.0,521.0 L143.8,521.1 L144.5,521.6 L145.2,521.5 L146.0,520.9 L146.8,521.3 L147.5,520.3 L148.2,521.1 L149.0,521.3 L149.8,521.3 L150.5,520.1 L151.2,520.1 L152.0,520.7 L152.8,519.9 L153.5,520.2 L154.2,520.9 L155.0,520.2 L155.8,521.2 L156.5,521.2 L157.2,520.9 L158.0,520.8 L158.8,521.2 L159.5,521.2 L160.2,521.7 L161.0,521.2 L161.8,521.1 L162.5,521.7 L163.2,521.6 L164.0,521.4 L164.8,521.9 L165.5,522.5 L166.2,522.0 L167.0,521.4 L167.8,521.6 L168.5,521.8 L169.2,521.8 L170.0,522.3 L170.8,522.1 L171.7,522.8 L172.5,522.0 L173.3,521.9 L174.2,522.5 L175.0,523.0 L175.8,523.3 L176.7,523.2 L177.5,522.8 L178.3,523.0 L179.2,523.1 L180.0,522.8 L180.8,522.9 L181.7,523.1 L182.5,522.9 L183.3,523.2 L184.2,523.2 L185.0,523.1 L185.8,523.5 L186.6,522.9 L187.5,522.5 L188.3,522.5 L189.1,522.9 L189.9,522.5 L190.7,522.6 L191.5,523.3 L192.4,521.7 L193.2,521.4 L194.0,522.1 L194.8,522.2 L195.6,522.4 L196.4,522.2 L197.1,522.6 L197.9,522.6 L198.7,522.3 L199.5,523.5 L200.3,523.2 L201.1,522.7 L201.9,522.6 L202.6,522.5 L203.4,522.6 L204.2,521.4 L205.0,522.4 L205.8,522.6 L206.6,522.1 L207.4,522.3 L208.2,522.8 L208.9,523.1 L209.7,523.5 L210.5,522.3 L211.3,522.2 L212.1,522.1 L212.9,522.5 L213.7,523.0 L214.5,521.5 L215.3,522.4 L216.1,521.7 L216.8,522.3 L217.6,521.6 L218.4,521.9 L219.2,522.6 L220.0,522.2 L220.8,522.3 L221.6,522.6 L222.4,522.4 L223.2,522.2 L223.9,522.9 L224.7,523.0 L225.5,522.4 L226.3,523.5 L227.1,522.3 L227.9,522.6 L228.7,522.2 L229.5,522.1 L230.3,522.3 L231.1,522.2 L231.8,522.3 L232.6,521.4 L233.4,520.9 L234.2,521.6 L235.0,521.6 L235.8,521.1 L236.6,520.8 L237.4,521.8 L238.2,522.2 L238.9,522.7 L239.7,522.0 L240.5,522.0 L241.3,521.5 L242.1,522.1 L242.9,522.8 L243.7,522.0 L244.5,522.8 L245.3,522.9 L246.1,522.5 L246.8,521.4 L247.6,522.4 L248.4,522.3 L249.2,522.0 L250.0,522.2 L250.8,522.4 L251.6,523.0 L252.4,522.2 L253.2,522.7 L253.9,523.1 L254.7,523.4 L255.5,522.8 L256.3,522.2 L257.1,522.6 L257.9,522.5 L258.7,522.4 L259.5,523.0 L260.3,522.5 L261.1,521.3 L261.8,521.5 L262.6,521.0 L263.4,521.9 L264.2,522.2 L265.0,522.1 L265.8,522.0 L266.6,522.4 L267.4,522.3 L268.2,522.8 L268.9,522.5 L269.7,522.7 L270.5,523.1 L271.3,523.3 L272.1,522.4 L272.9,522.6 L273.7,521.5 L274.5,521.2 L275.3,520.6 L276.1,521.7 L276.8,521.2 L277.6,521.5 L278.4,521.5 L279.2,521.6 L280.0,521.7 L280.8,521.7 L281.6,522.5 L282.4,522.2 L283.2,522.2 L283.9,522.4 L284.7,522.0 L285.5,521.3 L286.3,521.2 L287.1,521.9 L287.9,521.0 L288.7,521.0 L289.5,521.7 L290.3,522.0 L291.1,521.8 L291.8,522.1 L292.6,521.9 L293.4,521.2 L294.2,520.6 L295.0,521.3 L295.8,521.4 L296.7,521.1 L297.5,520.7 L298.3,520.5 L299.2,520.0 L300.0,520.3 L300.8,520.0 L301.7,520.5 L302.5,520.3 L303.3,520.1 L304.1,520.0 L304.9,519.3 L305.7,520.1 L306.4,520.0 L307.2,519.1 L308.0,519.1 L308.8,519.6 L309.6,519.5 L310.4,520.0 L311.2,520.2 L312.0,520.3 L312.8,520.1 L313.6,520.4 L314.3,520.3 L315.1,520.1 L315.9,518.8 L316.7,519.4 L317.5,519.4 L318.3,519.4 L319.2,519.1 L320.0,520.0 L320.8,518.9 L321.7,519.2 L322.5,520.3 L323.3,519.4 L324.2,519.6 L325.0,519.5 L325.8,519.9 L326.5,520.0 L327.2,520.3 L328.0,519.7 L328.8,519.8 L329.5,520.0 L330.2,520.2 L331.0,519.8 L331.8,519.4 L332.5,519.1 L333.2,518.8 L334.0,519.4 L334.8,519.3 L335.5,518.9 L336.2,518.7 L337.0,519.5 L337.8,520.4 L338.5,520.4 L339.2,519.1 L340.0,520.0 L340.8,520.4 L341.5,521.3 L342.2,521.4 L343.0,521.3 L343.8,521.7 L344.5,521.3 L345.2,521.6 L346.0,521.6 L346.8,521.1 L347.5,521.8 L348.2,522.3 L349.0,521.2 L349.8,520.8 L350.5,521.0 L351.2,521.1 L352.0,520.8 L352.8,520.4 L353.5,521.5 L354.2,521.6 L355.0,520.7 L355.8,520.0 L356.7,521.0 L357.5,521.1 L358.3,521.6 L359.2,521.3 L360.0,520.4 L360.8,520.4 L361.7,519.2 L362.5,519.8 L363.3,519.4 L364.2,519.6 L365.0,519.2 L365.8,519.1 L366.7,519.2 L367.5,519.2 L368.3,519.2 L369.2,519.0 L370.0,518.5 L370.8,518.8 L371.7,518.5 L372.5,518.0 L373.3,517.7 L374.2,517.8 L375.0,517.8 L375.8,517.9 L376.7,517.8 L377.5,517.7 L378.2,517.6 L379.0,516.9 L379.8,517.2 L380.5,517.6 L381.2,517.5 L382.0,517.0 L382.8,517.2 L383.5,516.5 L384.2,515.7 L385.0,516.1 L385.8,515.8 L386.5,516.3 L387.2,515.8 L388.0,515.8 L388.8,514.8 L389.5,516.0 L390.2,515.8 L391.0,515.1 L391.8,515.0 L392.5,515.5 L393.2,515.7 L394.0,515.5 L394.8,516.2 L395.5,516.0 L396.2,515.6 L397.0,515.6 L397.8,516.0 L398.5,515.9 L399.2,515.8 L400.0,514.7 L400.8,514.6 L401.7,514.9 L402.5,514.5 L403.3,514.9 L404.2,514.9 L405.0,514.9 L405.8,514.4 L406.7,515.4 L407.5,514.4 L408.3,514.4 L409.2,514.0 L410.0,514.9 L410.8,513.9 L411.7,513.9 L412.5,513.8 L413.3,513.3 L414.2,512.4 L415.0,512.5 L415.8,512.4 L416.5,512.7 L417.2,512.6 L418.0,512.1 L418.8,512.2 L419.5,511.9 L420.2,511.6 L421.0,511.1 L421.8,511.4 L422.5,512.1 L423.2,511.8 L424.0,512.4 L424.8,512.2 L425.5,511.5 L426.2,511.6 L427.0,510.8 L427.8,511.0 L428.5,511.6 L429.2,511.9 L430.0,511.7 L430.8,511.6 L431.5,511.0 L432.2,512.1 L433.0,512.2 L433.8,512.5 L434.5,511.7 L435.2,511.5 L436.0,510.6 L436.8,511.2 L437.5,511.6 L438.2,510.5 L439.0,510.9 L439.8,510.8 L440.5,509.7 L441.2,509.0 L442.0,508.8 L442.8,508.8 L443.5,509.2 L444.2,508.4 L445.0,508.4 L445.7,508.3 L446.5,508.1 L447.2,507.5 L448.2,504.9 L449.2,500.5 L450.2,499.6 L450.9,500.6 L451.7,502.5 L452.4,502.0 L453.2,502.1 L453.9,502.2 L454.7,501.8 L455.4,502.6 L456.2,504.8 L456.9,507.6 L457.7,510.9 L458.5,512.5 L459.2,514.0 L460.0,516.2 L460.7,516.7 L461.5,516.8 L462.2,516.9 L463.0,516.5 L463.7,515.1 L464.5,514.9 L465.2,515.2 L466.0,515.2 L466.8,514.4 L467.5,514.0 L468.2,512.9 L469.0,512.5 L469.8,511.9 L470.5,511.7 L471.2,511.7 L472.0,511.3 L472.8,510.6 L473.5,510.5 L474.2,510.3 L475.0,510.3 L475.8,510.2 L476.5,509.5 L477.2,508.7 L478.0,508.6 L478.8,508.3 L479.5,508.4 L480.2,507.7 L481.0,507.2 L481.8,507.0 L482.5,506.8 L483.2,506.1 L484.0,506.0 L484.8,506.5 L485.5,507.2 L486.2,507.3 L487.0,507.4 L487.8,506.5 L488.5,506.3 L489.2,506.7 L490.0,507.0 L490.8,507.9 L491.5,507.4 L492.2,507.6 L493.0,506.8 L493.8,507.2 L494.5,506.9 L495.2,506.3 L496.0,506.2 L496.8,505.3 L497.5,505.8 L498.2,504.9 L499.0,505.0 L499.8,505.9 L500.5,505.4 L501.2,505.2 L502.0,505.7 L502.8,505.4 L503.5,504.8 L504.2,505.0 L505.0,505.1 L505.7,505.5 L506.5,504.9 L507.2,505.2 L508.0,507.2 L508.7,507.6 L509.5,508.1 L510.2,507.8 L511.0,508.2 L511.8,507.3 L512.5,507.3 L513.2,506.7 L514.0,506.4 L514.8,506.9 L515.5,507.7 L516.2,507.7 L517.0,507.5 L517.8,508.2 L518.5,508.3 L519.2,508.6 L520.0,508.9 L520.8,509.4 L521.5,508.5 L522.2,509.1 L523.0,508.4 L523.8,508.2 L524.5,507.2 L525.3,507.3 L526.2,506.6 L527.0,507.8 L527.8,508.4 L528.7,507.6 L529.5,507.0 L530.3,506.7 L531.2,507.8 L532.0,507.9 L532.8,508.0 L533.5,508.1 L534.2,508.4 L535.0,508.2 L535.8,508.6 L536.5,508.3 L537.2,508.8 L538.0,509.5 L538.8,509.6 L539.5,509.5 L540.2,509.1 L541.0,509.3 L541.8,509.2 L542.5,510.0 L543.2,510.1 L544.0,509.6 L544.8,509.5 L545.5,509.3 L546.2,509.2 L547.0,509.4 L547.8,509.8 L548.5,510.2 L549.2,510.5 L550.0,510.5 L550.8,510.1 L551.5,509.6 L552.2,510.4 L553.0,508.7 L553.8,508.8 L554.5,509.4 L555.2,509.8 L556.0,510.3 L556.8,510.8 L557.5,511.5 L558.2,512.0 L559.0,512.6 L559.8,512.1 L560.5,512.1 L561.2,512.7 L562.0,512.6 L562.8,512.6 L563.5,513.4 L564.2,513.4 L565.0,514.0 L565.8,514.5 L566.7,514.5 L567.5,514.7 L568.3,514.5 L569.2,513.9 L570.0,514.2 L570.8,514.6 L571.7,514.4 L572.5,514.7 L573.3,514.9 L574.2,514.4 L575.0,514.8 L575.8,515.6 L576.7,515.0 L577.5,514.9 L578.3,514.7 L579.2,515.4 L580.0,514.9 L580.8,515.2 L581.7,514.4 L582.5,514.2 L583.3,514.0 L584.2,513.1 L585.0,513.9 L585.8,514.1 L586.7,512.9 L587.5,513.2 L588.3,513.3 L589.2,513.7 L590.0,514.0 L590.8,513.3 L591.7,513.6 L592.5,514.7 L593.3,514.4 L594.2,514.1 L595.0,514.4 L595.8,513.8 L596.7,514.5 L597.5,515.5 L598.3,515.5 L599.2,515.5 L600.0,516.4 L600.8,515.8 L601.7,515.3 L602.5,515.6 L603.3,515.9 L604.2,515.2 L605.0,514.8 L605.8,515.3 L606.7,515.5 L607.5,514.9 L608.3,515.1 L609.2,515.0 L610.0,515.5 L610.8,515.5 L611.7,515.6 L612.5,515.5 L613.3,516.2 L614.2,516.7 L615.0,516.3 L615.8,516.6 L616.7,516.1 L617.5,516.2 L618.3,516.6 L619.2,517.2 L620.0,516.8 L620.8,516.7 L621.7,516.8 L622.5,516.1 L623.3,516.5 L624.2,516.4 L625.0,517.0 L625.8,516.4 L626.7,515.6 L627.5,516.1 L628.3,516.4 L629.2,516.2 L630.0,516.7 L630.8,516.4 L631.7,516.0 L632.5,516.2 L633.3,515.4 L634.2,515.4 L635.0,515.6 L635.8,516.1 L636.7,515.8 L637.5,515.9 L638.3,515.4 L639.2,515.6 L640.0,515.7 L640.8,515.5 L641.7,516.4 L642.5,515.6 L643.3,515.3 L644.2,515.2 L645.0,515.5 L645.8,514.6 L646.7,513.7 L647.5,514.6 L648.3,514.8 L649.2,514.9 L650.0,515.9 L650.8,515.2 L651.7,514.9 L652.5,515.0 L653.3,514.7 L654.2,515.1 L655.0,514.0 L655.8,513.7 L656.5,512.0 L657.2,512.9 L658.0,512.8 L658.8,513.2 L659.5,513.9 L660.2,513.3 L661.0,512.6 L661.8,512.2 L662.5,511.7 L663.2,511.4 L664.0,511.7 L664.8,511.9 L665.5,512.1 L666.2,512.2 L667.0,512.8 L667.8,513.1 L668.5,513.0 L669.2,513.4 L670.0,513.2 L670.8,512.8 L671.6,513.8 L672.4,513.8 L673.2,513.3 L674.1,513.9 L674.9,514.0 L675.7,513.2 L676.5,514.2 L677.3,514.2 L678.1,514.5 L678.9,514.4 L679.7,514.2 L680.6,513.5 L681.4,514.3 L682.2,514.3 L683.0,514.2 L683.8,514.4 L684.6,514.7 L685.5,515.2 L686.3,515.0 L687.1,515.2 L688.0,514.4 L688.8,515.4 L689.6,515.4 L690.3,515.9 L691.1,515.3 L691.9,515.0 L692.7,515.6 L693.5,515.0 L694.2,515.0 L695.0,514.7 L695.8,514.8 L696.7,515.0 L697.5,514.1 L698.3,514.0 L699.2,513.7 L700.0,513.5 L700.8,514.3 L701.7,515.4 L702.5,514.7 L703.3,514.5 L704.2,515.0 L705.0,514.9 L705.8,515.1 L706.5,515.3 L707.3,515.1 L708.1,515.4 L708.9,514.6 L709.7,515.2 L710.4,514.5 L711.2,515.0 L712.0,514.5 L712.8,514.6 L713.6,515.1 L714.4,515.1 L715.1,514.8 L715.9,515.1 L716.7,515.7 L717.5,514.9 L718.2,515.1 L719.0,515.4 L719.7,515.1 L720.5,514.2 L721.2,514.7 L722.0,516.0 L722.8,514.5 L723.6,514.5 L724.4,514.8 L725.2,515.2 L726.0,515.3 L726.8,515.0 L727.6,514.5 L728.4,514.7 L729.2,515.3 L730.0,514.9 L730.8,514.4 L731.7,514.6 L732.5,513.9 L733.3,514.3 L734.2,514.4 L735.0,515.0 L735.0,526.2 Z" fill="#bababa" clip-path="url(#cu)"/><path d="M81.0,526.2 L81.5,523.0 L82.3,522.8 L83.2,523.0 L84.0,522.7 L84.8,522.5 L85.7,522.1 L86.5,522.1 L87.3,522.7 L88.2,522.6 L89.0,522.4 L89.8,522.5 L90.5,522.3 L91.2,522.0 L92.0,521.3 L92.8,521.6 L93.5,521.8 L94.2,521.9 L95.0,521.3 L95.7,519.9 L96.5,519.6 L97.2,519.4 L98.0,519.4 L98.7,519.1 L99.5,519.8 L100.2,520.0 L101.0,520.7 L101.8,520.9 L102.5,520.5 L103.2,521.4 L104.0,520.9 L104.8,521.5 L105.5,520.7 L106.2,520.1 L107.0,519.9 L107.8,519.9 L108.5,520.1 L109.2,520.0 L110.0,519.7 L110.8,519.2 L111.5,519.2 L112.2,520.0 L113.0,519.5 L113.8,519.7 L114.5,519.8 L115.2,519.3 L116.0,519.7 L116.8,520.6 L117.5,519.7 L118.2,520.0 L119.0,520.6 L119.8,520.3 L120.5,520.9 L121.2,521.0 L122.0,520.5 L122.8,521.4 L123.5,521.6 L124.2,521.9 L125.0,522.1 L125.8,521.6 L126.5,521.1 L127.2,520.2 L128.0,520.3 L128.8,520.1 L129.5,520.1 L130.2,519.7 L131.0,519.7 L131.8,519.8 L132.5,520.8 L133.2,519.8 L134.0,520.4 L134.8,520.2 L135.5,521.1 L136.2,521.2 L137.0,520.1 L137.8,519.2 L138.5,520.1 L139.2,520.0 L140.0,520.4 L140.8,520.7 L141.5,521.2 L142.2,521.0 L143.0,521.0 L143.8,521.1 L144.5,521.6 L145.2,521.5 L146.0,520.9 L146.8,521.3 L147.5,520.3 L148.2,521.1 L149.0,521.3 L149.8,521.3 L150.5,520.1 L151.2,520.1 L152.0,520.7 L152.8,519.9 L153.5,520.2 L154.2,520.9 L155.0,520.2 L155.8,521.2 L156.5,521.2 L157.2,520.9 L158.0,520.8 L158.8,521.2 L159.5,521.2 L160.2,521.7 L161.0,521.2 L161.8,521.1 L162.5,521.7 L163.2,521.6 L164.0,521.4 L164.8,521.9 L165.5,522.5 L166.2,522.0 L167.0,521.4 L167.8,521.6 L168.5,521.8 L169.2,521.8 L170.0,522.3 L170.8,522.1 L171.7,522.8 L172.5,522.0 L173.3,521.9 L174.2,522.5 L175.0,523.0 L175.8,523.3 L176.7,523.2 L177.5,522.8 L178.3,523.0 L179.2,523.1 L180.0,522.8 L180.8,522.9 L181.7,523.1 L182.5,522.9 L183.3,523.2 L184.2,523.2 L185.0,523.1 L185.8,523.5 L186.6,522.9 L187.5,522.5 L188.3,522.5 L189.1,522.9 L189.9,522.5 L190.7,522.6 L191.5,523.3 L192.4,521.7 L193.2,521.4 L194.0,522.1 L194.8,522.2 L195.6,522.4 L196.4,522.2 L197.1,522.6 L197.9,522.6 L198.7,522.3 L199.5,523.5 L200.3,523.2 L201.1,522.7 L201.9,522.6 L202.6,522.5 L203.4,522.6 L204.2,521.4 L205.0,522.4 L205.8,522.6 L206.6,522.1 L207.4,522.3 L208.2,522.8 L208.9,523.1 L209.7,523.5 L210.5,522.3 L211.3,522.2 L212.1,522.1 L212.9,522.5 L213.7,523.0 L214.5,521.5 L215.3,522.4 L216.1,521.7 L216.8,522.3 L217.6,521.6 L218.4,521.9 L219.2,522.6 L220.0,522.2 L220.8,522.3 L221.6,522.6 L222.4,522.4 L223.2,522.2 L223.9,522.9 L224.7,523.0 L225.5,522.4 L226.3,523.5 L227.1,522.3 L227.9,522.6 L228.7,522.2 L229.5,522.1 L230.3,522.3 L231.1,522.2 L231.8,522.3 L232.6,521.4 L233.4,520.9 L234.2,521.6 L235.0,521.6 L235.8,521.1 L236.6,520.8 L237.4,521.8 L238.2,522.2 L238.9,522.7 L239.7,522.0 L240.5,522.0 L241.3,521.5 L242.1,522.1 L242.9,522.8 L243.7,522.0 L244.5,522.8 L245.3,522.9 L246.1,522.5 L246.8,521.4 L247.6,522.4 L248.4,522.3 L249.2,522.0 L250.0,522.2 L250.8,522.4 L251.6,523.0 L252.4,522.2 L253.2,522.7 L253.9,523.1 L254.7,523.4 L255.5,522.8 L256.3,522.2 L257.1,522.6 L257.9,522.5 L258.7,522.4 L259.5,523.0 L260.3,522.5 L261.1,521.3 L261.8,521.5 L262.6,521.0 L263.4,521.9 L264.2,522.2 L265.0,522.1 L265.8,522.0 L266.6,522.4 L267.4,522.3 L268.2,522.8 L268.9,522.5 L269.7,522.7 L270.5,523.1 L271.3,523.3 L272.1,522.4 L272.9,522.6 L273.7,521.5 L274.5,521.2 L275.3,520.6 L276.1,521.7 L276.8,521.2 L277.6,521.5 L278.4,521.5 L279.2,521.6 L280.0,521.7 L280.8,521.7 L281.6,522.5 L282.4,522.2 L283.2,522.2 L283.9,522.4 L284.7,522.0 L285.5,521.3 L286.3,521.2 L287.1,521.9 L287.9,521.0 L288.7,521.0 L289.5,521.7 L290.3,522.0 L291.1,521.8 L291.8,522.1 L292.6,521.9 L293.4,521.2 L294.2,520.6 L295.0,521.3 L295.8,521.4 L296.7,521.1 L297.5,520.7 L298.3,520.5 L299.2,520.0 L300.0,520.3 L300.8,520.0 L301.7,520.5 L302.5,520.3 L303.3,520.1 L304.1,520.0 L304.9,519.3 L305.7,520.1 L306.4,520.0 L307.2,519.1 L308.0,519.1 L308.8,519.6 L309.6,519.5 L310.4,520.0 L311.2,520.2 L312.0,520.3 L312.8,520.1 L313.6,520.4 L314.3,520.3 L315.1,520.1 L315.9,518.8 L316.7,519.4 L317.5,519.4 L318.3,519.4 L319.2,519.1 L320.0,520.0 L320.8,518.9 L321.7,519.2 L322.5,520.3 L323.3,519.4 L324.2,519.6 L325.0,519.5 L325.8,519.9 L326.5,520.0 L327.2,520.3 L328.0,519.7 L328.8,519.8 L329.5,520.0 L330.2,520.2 L331.0,519.8 L331.8,519.4 L332.5,519.1 L333.2,518.8 L334.0,519.4 L334.8,519.3 L335.5,518.9 L336.2,518.7 L337.0,519.5 L337.8,520.4 L338.5,520.4 L339.2,519.1 L340.0,520.0 L340.8,520.4 L341.5,521.3 L342.2,521.4 L343.0,521.3 L343.8,521.7 L344.5,521.3 L345.2,521.6 L346.0,521.6 L346.8,521.1 L347.5,521.8 L348.2,522.3 L349.0,521.2 L349.8,520.8 L350.5,521.0 L351.2,521.1 L352.0,520.8 L352.8,520.4 L353.5,521.5 L354.2,521.6 L355.0,520.7 L355.8,520.0 L356.7,521.0 L357.5,521.1 L358.3,521.6 L359.2,521.3 L360.0,520.4 L360.8,520.4 L361.7,519.2 L362.5,519.8 L363.3,519.4 L364.2,519.6 L365.0,519.2 L365.8,519.1 L366.7,519.2 L367.5,519.2 L368.3,519.2 L369.2,519.0 L370.0,518.5 L370.8,518.8 L371.7,518.5 L372.5,518.0 L373.3,517.7 L374.2,517.8 L375.0,517.8 L375.8,517.9 L376.7,517.8 L377.5,517.7 L378.2,517.6 L379.0,516.9 L379.8,517.2 L380.5,517.6 L381.2,517.5 L382.0,517.0 L382.8,517.2 L383.5,516.5 L384.2,515.7 L385.0,516.1 L385.8,515.8 L386.5,516.3 L387.2,515.8 L388.0,515.8 L388.8,514.8 L389.5,516.0 L390.2,515.8 L391.0,515.1 L391.8,515.0 L392.5,515.5 L393.2,515.7 L394.0,515.5 L394.8,516.2 L395.5,516.0 L396.2,515.6 L397.0,515.6 L397.8,516.0 L398.5,515.9 L399.2,515.8 L400.0,514.7 L400.8,514.6 L401.7,514.9 L402.5,514.5 L403.3,514.9 L404.2,514.9 L405.0,514.9 L405.8,514.4 L406.7,515.4 L407.5,514.4 L408.3,514.4 L409.2,514.0 L410.0,514.9 L410.8,513.9 L411.7,513.9 L412.5,513.8 L413.3,513.3 L414.2,512.4 L415.0,512.5 L415.8,512.4 L416.5,512.7 L417.2,512.6 L418.0,512.1 L418.8,512.2 L419.5,511.9 L420.2,511.6 L421.0,511.1 L421.8,511.4 L422.5,512.1 L423.2,511.8 L424.0,512.4 L424.8,512.2 L425.5,511.5 L426.2,511.6 L427.0,510.8 L427.8,511.0 L428.5,511.6 L429.2,511.9 L430.0,511.7 L430.8,511.6 L431.5,511.0 L432.2,512.1 L433.0,512.2 L433.8,512.5 L434.5,511.7 L435.2,511.5 L436.0,510.6 L436.8,511.2 L437.5,511.6 L438.2,510.5 L439.0,510.9 L439.8,510.8 L440.5,509.7 L441.2,509.0 L442.0,508.8 L442.8,508.8 L443.5,509.2 L444.2,508.4 L445.0,508.4 L445.7,508.3 L446.5,508.1 L447.2,507.5 L448.2,504.9 L449.2,500.5 L450.2,499.6 L450.9,500.6 L451.7,502.5 L452.4,502.0 L453.2,502.1 L453.9,502.2 L454.7,501.8 L455.4,502.6 L456.2,504.8 L456.9,507.6 L457.7,510.9 L458.5,512.5 L459.2,514.0 L460.0,516.2 L460.7,516.7 L461.5,516.8 L462.2,516.9 L463.0,516.5 L463.7,515.1 L464.5,514.9 L465.2,515.2 L466.0,515.2 L466.8,514.4 L467.5,514.0 L468.2,512.9 L469.0,512.5 L469.8,511.9 L470.5,511.7 L471.2,511.7 L472.0,511.3 L472.8,510.6 L473.5,510.5 L474.2,510.3 L475.0,510.3 L475.8,510.2 L476.5,509.5 L477.2,508.7 L478.0,508.6 L478.8,508.3 L479.5,508.4 L480.2,507.7 L481.0,507.2 L481.8,507.0 L482.5,506.8 L483.2,506.1 L484.0,506.0 L484.8,506.5 L485.5,507.2 L486.2,507.3 L487.0,507.4 L487.8,506.5 L488.5,506.3 L489.2,506.7 L490.0,507.0 L490.8,507.9 L491.5,507.4 L492.2,507.6 L493.0,506.8 L493.8,507.2 L494.5,506.9 L495.2,506.3 L496.0,506.2 L496.8,505.3 L497.5,505.8 L498.2,504.9 L499.0,505.0 L499.8,505.9 L500.5,505.4 L501.2,505.2 L502.0,505.7 L502.8,505.4 L503.5,504.8 L504.2,505.0 L505.0,505.1 L505.7,505.5 L506.5,504.9 L507.2,505.2 L508.0,507.2 L508.7,507.6 L509.5,508.1 L510.2,507.8 L511.0,508.2 L511.8,507.3 L512.5,507.3 L513.2,506.7 L514.0,506.4 L514.8,506.9 L515.5,507.7 L516.2,507.7 L517.0,507.5 L517.8,508.2 L518.5,508.3 L519.2,508.6 L520.0,508.9 L520.8,509.4 L521.5,508.5 L522.2,509.1 L523.0,508.4 L523.8,508.2 L524.5,507.2 L525.3,507.3 L526.2,506.6 L527.0,507.8 L527.8,508.4 L528.7,507.6 L529.5,507.0 L530.3,506.7 L531.2,507.8 L532.0,507.9 L532.8,508.0 L533.5,508.1 L534.2,508.4 L535.0,508.2 L535.8,508.6 L536.5,508.3 L537.2,508.8 L538.0,509.5 L538.8,509.6 L539.5,509.5 L540.2,509.1 L541.0,509.3 L541.8,509.2 L542.5,510.0 L543.2,510.1 L544.0,509.6 L544.8,509.5 L545.5,509.3 L546.2,509.2 L547.0,509.4 L547.8,509.8 L548.5,510.2 L549.2,510.5 L550.0,510.5 L550.8,510.1 L551.5,509.6 L552.2,510.4 L553.0,508.7 L553.8,508.8 L554.5,509.4 L555.2,509.8 L556.0,510.3 L556.8,510.8 L557.5,511.5 L558.2,512.0 L559.0,512.6 L559.8,512.1 L560.5,512.1 L561.2,512.7 L562.0,512.6 L562.8,512.6 L563.5,513.4 L564.2,513.4 L565.0,514.0 L565.8,514.5 L566.7,514.5 L567.5,514.7 L568.3,514.5 L569.2,513.9 L570.0,514.2 L570.8,514.6 L571.7,514.4 L572.5,514.7 L573.3,514.9 L574.2,514.4 L575.0,514.8 L575.8,515.6 L576.7,515.0 L577.5,514.9 L578.3,514.7 L579.2,515.4 L580.0,514.9 L580.8,515.2 L581.7,514.4 L582.5,514.2 L583.3,514.0 L584.2,513.1 L585.0,513.9 L585.8,514.1 L586.7,512.9 L587.5,513.2 L588.3,513.3 L589.2,513.7 L590.0,514.0 L590.8,513.3 L591.7,513.6 L592.5,514.7 L593.3,514.4 L594.2,514.1 L595.0,514.4 L595.8,513.8 L596.7,514.5 L597.5,515.5 L598.3,515.5 L599.2,515.5 L600.0,516.4 L600.8,515.8 L601.7,515.3 L602.5,515.6 L603.3,515.9 L604.2,515.2 L605.0,514.8 L605.8,515.3 L606.7,515.5 L607.5,514.9 L608.3,515.1 L609.2,515.0 L610.0,515.5 L610.8,515.5 L611.7,515.6 L612.5,515.5 L613.3,516.2 L614.2,516.7 L615.0,516.3 L615.8,516.6 L616.7,516.1 L617.5,516.2 L618.3,516.6 L619.2,517.2 L620.0,516.8 L620.8,516.7 L621.7,516.8 L622.5,516.1 L623.3,516.5 L624.2,516.4 L625.0,517.0 L625.8,516.4 L626.7,515.6 L627.5,516.1 L628.3,516.4 L629.2,516.2 L630.0,516.7 L630.8,516.4 L631.7,516.0 L632.5,516.2 L633.3,515.4 L634.2,515.4 L635.0,515.6 L635.8,516.1 L636.7,515.8 L637.5,515.9 L638.3,515.4 L639.2,515.6 L640.0,515.7 L640.8,515.5 L641.7,516.4 L642.5,515.6 L643.3,515.3 L644.2,515.2 L645.0,515.5 L645.8,514.6 L646.7,513.7 L647.5,514.6 L648.3,514.8 L649.2,514.9 L650.0,515.9 L650.8,515.2 L651.7,514.9 L652.5,515.0 L653.3,514.7 L654.2,515.1 L655.0,514.0 L655.8,513.7 L656.5,512.0 L657.2,512.9 L658.0,512.8 L658.8,513.2 L659.5,513.9 L660.2,513.3 L661.0,512.6 L661.8,512.2 L662.5,511.7 L663.2,511.4 L664.0,511.7 L664.8,511.9 L665.5,512.1 L666.2,512.2 L667.0,512.8 L667.8,513.1 L668.5,513.0 L669.2,513.4 L670.0,513.2 L670.8,512.8 L671.6,513.8 L672.4,513.8 L673.2,513.3 L674.1,513.9 L674.9,514.0 L675.7,513.2 L676.5,514.2 L677.3,514.2 L678.1,514.5 L678.9,514.4 L679.7,514.2 L680.6,513.5 L681.4,514.3 L682.2,514.3 L683.0,514.2 L683.8,514.4 L684.6,514.7 L685.5,515.2 L686.3,515.0 L687.1,515.2 L688.0,514.4 L688.8,515.4 L689.6,515.4 L690.3,515.9 L691.1,515.3 L691.9,515.0 L692.7,515.6 L693.5,515.0 L694.2,515.0 L695.0,514.7 L695.8,514.8 L696.7,515.0 L697.5,514.1 L698.3,514.0 L699.2,513.7 L700.0,513.5 L700.8,514.3 L701.7,515.4 L702.5,514.7 L703.3,514.5 L704.2,515.0 L705.0,514.9 L705.8,515.1 L706.5,515.3 L707.3,515.1 L708.1,515.4 L708.9,514.6 L709.7,515.2 L710.4,514.5 L711.2,515.0 L712.0,514.5 L712.8,514.6 L713.6,515.1 L714.4,515.1 L715.1,514.8 L715.9,515.1 L716.7,515.7 L717.5,514.9 L718.2,515.1 L719.0,515.4 L719.7,515.1 L720.5,514.2 L721.2,514.7 L722.0,516.0 L722.8,514.5 L723.6,514.5 L724.4,514.8 L725.2,515.2 L726.0,515.3 L726.8,515.0 L727.6,514.5 L728.4,514.7 L729.2,515.3 L730.0,514.9 L730.8,514.4 L731.7,514.6 L732.5,513.9 L733.3,514.3 L734.2,514.4 L735.0,515.0 L735.0,526.2 Z" fill="#8a8a8a" clip-path="url(#cs)"/><rect x="153.0" y="489.5" width="1" height="36.7" fill="#ffffff" fill-opacity="0.55"/><text x="153.5" y="521" text-anchor="middle" font-family='"Liberation Sans", sans-serif' font-size="14" fill="#ffffff" letter-spacing="0.5" stroke="#ffffff" stroke-width="0.25">1990</text><rect x="234.8" y="489.5" width="1" height="36.7" fill="#ffffff" fill-opacity="0.55"/><text x="235.2" y="521" text-anchor="middle" font-family='"Liberation Sans", sans-serif' font-size="14" fill="#ffffff" letter-spacing="0.5" stroke="#ffffff" stroke-width="0.25">1995</text><rect x="316.5" y="489.5" width="1" height="36.7" fill="#ffffff" fill-opacity="0.55"/><text x="317.0" y="521" text-anchor="middle" font-family='"Liberation Sans", sans-serif' font-size="14" fill="#ffffff" letter-spacing="0.5" stroke="#ffffff" stroke-width="0.25">2000</text><rect x="398.2" y="489.5" width="1" height="36.7" fill="#ffffff" fill-opacity="0.55"/><text x="398.8" y="521" text-anchor="middle" font-family='"Liberation Sans", sans-serif' font-size="14" fill="#ffffff" letter-spacing="0.5" stroke="#ffffff" stroke-width="0.25">2005</text><rect x="480.0" y="489.5" width="1" height="36.7" fill="#ffffff" fill-opacity="0.55"/><text x="480.5" y="521" text-anchor="middle" font-family='"Liberation Sans", sans-serif' font-size="14" fill="#ffffff" letter-spacing="0.5" stroke="#ffffff" stroke-width="0.25">2010</text><rect x="561.8" y="489.5" width="1" height="36.7" fill="#ffffff" fill-opacity="0.55"/><text x="562.2" y="521" text-anchor="middle" font-family='"Liberation Sans", sans-serif' font-size="14" fill="#ffffff" letter-spacing="0.5" stroke="#ffffff" stroke-width="0.25">2015</text><rect x="643.5" y="489.5" width="1" height="36.7" fill="#ffffff" fill-opacity="0.55"/><text x="644.0" y="521" text-anchor="middle" font-family='"Liberation Sans", sans-serif' font-size="14" fill="#ffffff" letter-spacing="0.5" stroke="#ffffff" stroke-width="0.25">2020</text><rect x="728.4" y="489.5" width="1" height="36.7" fill="#ffffff" fill-opacity="0.55"/><circle cx="314.3" cy="509.0" r="15.2" fill="#000" fill-opacity="0.05"/><circle cx="314.3" cy="508.6" r="14.7" fill="#000" fill-opacity="0.07"/><circle cx="314.3" cy="508.3" r="14.3" fill="#ffffff"/><rect x="313" y="503.7" width="1" height="9.8" fill="#999999"/><rect x="316" y="503.7" width="1" height="9.8" fill="#999999"/><circle cx="735.8" cy="509.2" r="15.2" fill="#000" fill-opacity="0.05"/><circle cx="735.8" cy="508.8" r="14.7" fill="#000" fill-opacity="0.07"/><circle cx="735.8" cy="508.5" r="14.3" fill="#ffffff"/><rect x="734" y="503.7" width="1" height="9.8" fill="#999999"/><rect x="737.2" y="503.7" width="1" height="9.8" fill="#999999"/></svg>
</body></html>
